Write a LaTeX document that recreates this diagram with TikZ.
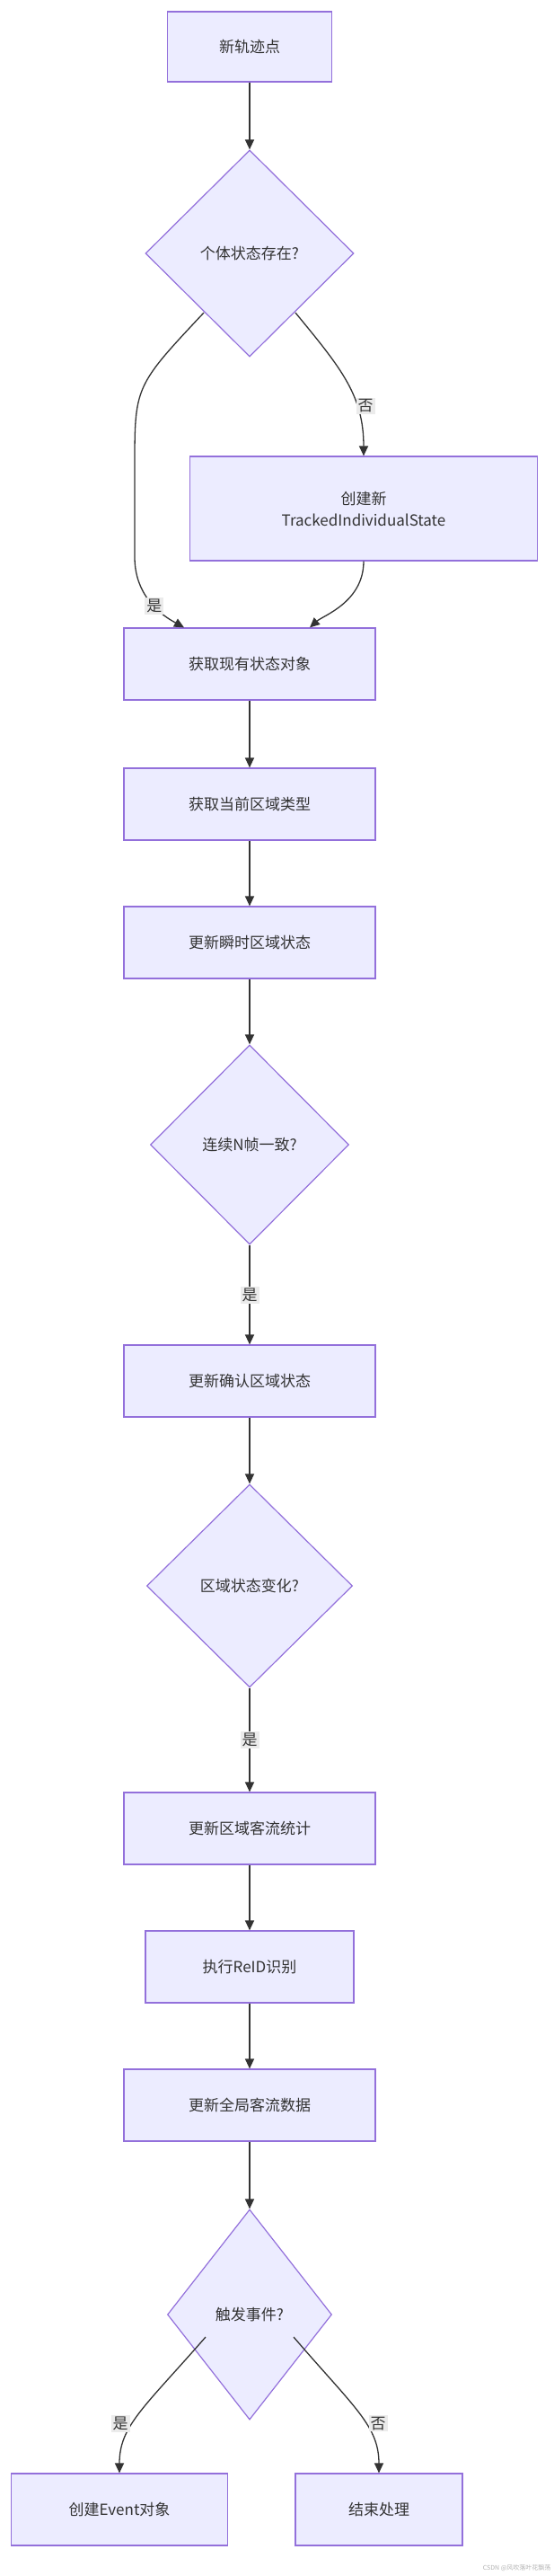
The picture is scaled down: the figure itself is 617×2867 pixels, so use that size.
\documentclass[tikz,border=0pt]{standalone}
\usepackage{fontspec}
\setmainfont{Noto Sans CJK SC}
\usetikzlibrary{shapes.geometric,arrows.meta}
\definecolor{nfill}{HTML}{ECECFF}
\definecolor{nline}{HTML}{9370DB}
\definecolor{eline}{HTML}{333333}
\begin{document}
\begin{tikzpicture}[x=1pt,y=-1pt,
  box/.style={draw=nline,fill=nfill,line width=1.2pt,minimum width=280pt,minimum height=80pt,inner sep=0pt,font=\fontsize{17}{24}\selectfont,text=eline,align=center},
  dia/.style={draw=nline,fill=nfill,line width=1.2pt,shape=diamond,inner sep=0pt,font=\fontsize{17}{24}\selectfont,text=eline},
  edge/.style={draw=eline,line width=1.3pt,-{Triangle[length=11pt,width=10pt]}},
  lab/.style={fill=black!8,inner sep=2pt,font=\fontsize{17}{20}\selectfont,text=eline}]
\useasboundingbox (0,0) rectangle (617,2867);
\node[box,minimum width=183pt,minimum height=78pt] (n1) at (278,52) {新轨迹点};
\node[dia,minimum width=232pt,minimum height=230pt] (d1) at (278,282) {个体状态存在?};
\node[box,minimum width=387pt,minimum height=116pt] (cr) at (405,566) {创建新\\TrackedIndividualState};
\node[box] (get) at (278,739) {获取现有状态对象};
\node[box] (cur) at (278,895) {获取当前区域类型};
\node[box] (inst) at (278,1049) {更新瞬时区域状态};
\node[dia,minimum width=221pt,minimum height=222pt] (d2) at (278,1274) {连续N帧一致?};
\node[box] (conf) at (278,1537) {更新确认区域状态};
\node[dia,minimum width=229pt,minimum height=226pt] (d3) at (278,1765) {区域状态变化?};
\node[box] (stat) at (278,2035) {更新区域客流统计};
\node[box,minimum width=232pt] (reid) at (278,2189) {执行ReID识别};
\node[box] (glob) at (278,2343) {更新全局客流数据};
\node[dia,minimum width=183pt,minimum height=234pt] (d4) at (278,2576) {触发事件?};
\node[box,minimum width=241pt] (ev) at (133,2793) {创建Event对象};
\node[box,minimum width=186pt] (en) at (422,2793) {结束处理};
\node[font=\fontsize{7}{8}\selectfont,text=black!30,anchor=south east] (wm) at (617,2865) {CSDN @风吹落叶花飘荡};

\draw[edge] (n1) -- (d1);
\coordinate (y1) at (227,348);
\coordinate (nA) at (329,348);
\draw[edge] (y1) .. controls (150,430) .. (150,520) -- (150,620) .. controls (150,670) and (190,690) .. (get.north west -| 205,0) node[lab,pos=0.5] at (150,564) {是};
\draw[edge] (nA) .. controls (380,410) and (405,440) .. (cr.north);
\node[lab] (lno) at (407,452) {否};
\draw[edge] (cr.south) .. controls (405,670) and (360,685) .. (get.north -| 345,0);
\draw[edge] (get) -- (cur);
\draw[edge] (cur) -- (inst);
\draw[edge] (inst) -- (d2);
\draw[edge] (d2) -- node[lab] {是} (conf);
\draw[edge] (conf) -- (d3);
\draw[edge] (d3) -- node[lab] {是} (stat);
\draw[edge] (stat) -- (reid);
\draw[edge] (reid) -- (glob);
\draw[edge] (glob) -- (d4);
\coordinate (y4) at (229,2601);
\coordinate (n4) at (327,2601);
\draw[edge] (y4) .. controls (160,2680) and (133,2700) .. (ev.north);
\draw[edge] (n4) .. controls (395,2680) and (422,2700) .. (en.north);
\node[lab] (l4y) at (134,2697) {是};
\node[lab] (l4n) at (421,2697) {否};
\end{tikzpicture}
\end{document}
